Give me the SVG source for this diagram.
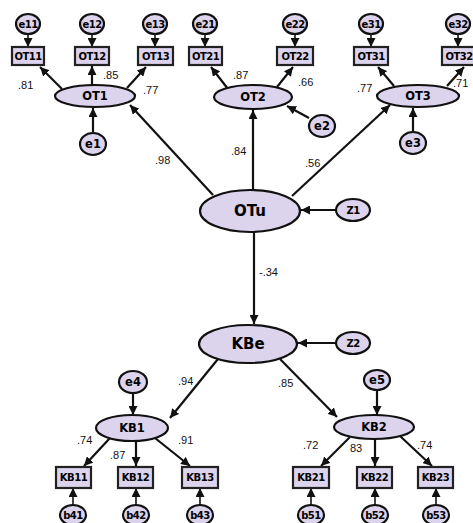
<svg xmlns="http://www.w3.org/2000/svg" width="473" height="523" viewBox="0 0 473 523">
<defs>
<marker id="ah" viewBox="0 0 10 10" refX="10" refY="5" markerWidth="9" markerHeight="9" markerUnits="userSpaceOnUse" orient="auto"><path d="M0,0 L10,5 L0,10 z" fill="#111"/></marker>
<style>
.n{fill:#dcd3ec;stroke:#111;stroke-width:2.2}
.b{fill:#dcd3ec;stroke:#222;stroke-width:2.2}
.t{font-family:"DejaVu Sans",sans-serif;font-weight:bold;fill:#000;text-anchor:middle;dominant-baseline:central}
.s{font-size:10px;letter-spacing:-0.5px}
.m{font-size:11.5px}
.l{font-size:15px}
.c{stroke:#111;stroke-width:2.2;fill:none;marker-end:url(#ah)}
.c1{stroke:#111;stroke-width:1.6;fill:none;marker-end:url(#ah)}
.v{font-family:"Liberation Sans",Arial,sans-serif;font-size:11px;fill:#111}
</style>
</defs>
<rect width="473" height="523" fill="#fff"/>
<g id="connectors">
<line class="c1" x1="28" y1="34" x2="28" y2="47"/>
<line class="c1" x1="92" y1="34" x2="92" y2="47"/>
<line class="c1" x1="155" y1="34" x2="155" y2="47"/>
<line class="c1" x1="205" y1="34" x2="205" y2="47"/>
<line class="c1" x1="295" y1="34" x2="295" y2="47"/>
<line class="c1" x1="371" y1="34" x2="371" y2="47"/>
<line class="c1" x1="458" y1="34" x2="458" y2="47"/>
<line class="c" x1="62" y1="89" x2="40" y2="67"/>
<line class="c" x1="92" y1="85" x2="92" y2="66"/>
<line class="c" x1="127" y1="88" x2="146" y2="67"/>
<line class="c" x1="228" y1="89" x2="211" y2="67"/>
<line class="c" x1="277" y1="87" x2="293" y2="67"/>
<line class="c" x1="394" y1="86" x2="378" y2="67"/>
<line class="c" x1="447" y1="86" x2="464" y2="67"/>
<line class="c" x1="93" y1="132" x2="93" y2="108"/>
<line class="c" x1="309" y1="118" x2="287" y2="106"/>
<line class="c" x1="413" y1="131" x2="413" y2="108"/>
<line class="c" x1="213" y1="195" x2="130" y2="105"/>
<line class="c" x1="253" y1="190" x2="253" y2="110"/>
<line class="c" x1="292" y1="196" x2="390" y2="105"/>
<line class="c" x1="335" y1="210" x2="301" y2="210"/>
<line class="c" x1="254" y1="232" x2="254" y2="324"/>
<line class="c" x1="335" y1="343" x2="298" y2="343"/>
<line class="c" x1="218" y1="359" x2="170" y2="418"/>
<line class="c" x1="280" y1="359" x2="337" y2="417"/>
<line class="c" x1="133" y1="393" x2="133" y2="415"/>
<line class="c" x1="377" y1="390" x2="377" y2="415"/>
<line class="c" x1="110" y1="438" x2="84" y2="466"/>
<line class="c" x1="136" y1="441" x2="136" y2="466"/>
<line class="c" x1="155" y1="438" x2="190" y2="466"/>
<line class="c" x1="350" y1="437" x2="321" y2="466"/>
<line class="c" x1="375" y1="439" x2="375" y2="466"/>
<line class="c" x1="400" y1="436" x2="432" y2="466"/>
<line class="c1" x1="73" y1="505" x2="73" y2="488"/>
<line class="c1" x1="136" y1="505" x2="136" y2="488"/>
<line class="c1" x1="200" y1="505" x2="200" y2="488"/>
<line class="c1" x1="311" y1="505" x2="311" y2="488"/>
<line class="c1" x1="375" y1="505" x2="375" y2="488"/>
<line class="c1" x1="436" y1="505" x2="436" y2="488"/>
</g>
<g id="labels">
<text class="v" x="18" y="89">.81</text>
<text class="v" x="103" y="79">.85</text>
<text class="v" x="143" y="94">.77</text>
<text class="v" x="233" y="79">.87</text>
<text class="v" x="298" y="86">.66</text>
<text class="v" x="357" y="92">.77</text>
<text class="v" x="453" y="87">.71</text>
<text class="v" x="155" y="164">.98</text>
<text class="v" x="231" y="155">.84</text>
<text class="v" x="305" y="167">.56</text>
<text class="v" x="259" y="276">-.34</text>
<text class="v" x="178" y="385">.94</text>
<text class="v" x="278" y="387">.85</text>
<text class="v" x="77" y="444">.74</text>
<text class="v" x="110" y="459">.87</text>
<text class="v" x="178" y="444">.91</text>
<text class="v" x="303" y="449">.72</text>
<text class="v" x="350" y="452">83</text>
<text class="v" x="417" y="449">.74</text>
</g>
<g id="e11"><ellipse class="n" cx="28" cy="24" rx="12" ry="10"/><text class="t s" x="28" y="24">e11</text></g>
<g id="e12"><ellipse class="n" cx="92" cy="24" rx="12" ry="10"/><text class="t s" x="92" y="24">e12</text></g>
<g id="e13"><ellipse class="n" cx="155" cy="24" rx="12" ry="10"/><text class="t s" x="155" y="24">e13</text></g>
<g id="e21"><ellipse class="n" cx="205" cy="24" rx="12" ry="10"/><text class="t s" x="205" y="24">e21</text></g>
<g id="e22"><ellipse class="n" cx="295" cy="24" rx="12" ry="10"/><text class="t s" x="295" y="24">e22</text></g>
<g id="e31"><ellipse class="n" cx="371" cy="24" rx="12" ry="10"/><text class="t s" x="371" y="24">e31</text></g>
<g id="e32"><ellipse class="n" cx="458" cy="24" rx="12" ry="10"/><text class="t s" x="458" y="24">e32</text></g>
<g id="OT11"><rect class="b" x="12" y="47" width="32" height="18"/><text class="t s" x="28" y="56">OT11</text></g>
<g id="OT12"><rect class="b" x="75" y="47" width="34" height="18"/><text class="t s" x="92" y="56">OT12</text></g>
<g id="OT13"><rect class="b" x="138" y="47" width="35" height="18"/><text class="t s" x="155.5" y="56">OT13</text></g>
<g id="OT21"><rect class="b" x="189" y="47" width="33" height="18"/><text class="t s" x="205.5" y="56">OT21</text></g>
<g id="OT22"><rect class="b" x="277" y="47" width="36" height="18"/><text class="t s" x="295" y="56">OT22</text></g>
<g id="OT31"><rect class="b" x="354" y="47" width="34" height="18"/><text class="t s" x="371" y="56">OT31</text></g>
<g id="OT32"><rect class="b" x="442" y="47" width="34" height="18"/><text class="t s" x="459" y="56">OT32</text></g>
<g id="OT1"><ellipse class="n" cx="95" cy="96" rx="40" ry="11"/><text class="t m" x="95" y="96">OT1</text></g>
<g id="OT2"><ellipse class="n" cx="253" cy="97" rx="39" ry="12"/><text class="t m" x="253" y="97">OT2</text></g>
<g id="OT3"><ellipse class="n" cx="418" cy="96" rx="41" ry="11"/><text class="t m" x="418" y="96">OT3</text></g>
<g id="e1"><ellipse class="n" cx="93" cy="144" rx="13" ry="11"/><text class="t m" x="93" y="144">e1</text></g>
<g id="e2"><ellipse class="n" cx="322" cy="126" rx="13" ry="11"/><text class="t m" x="322" y="126">e2</text></g>
<g id="e3"><ellipse class="n" cx="413" cy="143" rx="13" ry="11"/><text class="t m" x="413" y="143">e3</text></g>
<g id="OTu"><ellipse class="n" cx="250" cy="211" rx="50" ry="21"/><text class="t l" x="250" y="211">OTu</text></g>
<g id="Z1"><ellipse class="n" cx="353" cy="210" rx="17" ry="11"/><text class="t s" x="353" y="210">Z1</text></g>
<g id="KBe"><ellipse class="n" cx="248" cy="344" rx="49" ry="19"/><text class="t l" x="248" y="344">KBe</text></g>
<g id="Z2"><ellipse class="n" cx="353" cy="343" rx="17" ry="11"/><text class="t s" x="353" y="343">Z2</text></g>
<g id="e4"><ellipse class="n" cx="133" cy="382" rx="14" ry="11"/><text class="t m" x="133" y="382">e4</text></g>
<g id="e5"><ellipse class="n" cx="377" cy="380" rx="13" ry="10"/><text class="t m" x="377" y="380">e5</text></g>
<g id="KB1"><ellipse class="n" cx="132" cy="428" rx="36" ry="13"/><text class="t m" x="132" y="428">KB1</text></g>
<g id="KB2"><ellipse class="n" cx="374" cy="427" rx="40" ry="12"/><text class="t m" x="374" y="427">KB2</text></g>
<g id="KB11"><rect class="b" x="56" y="467" width="35" height="21"/><text class="t s" x="73.5" y="477.5">KB11</text></g>
<g id="KB12"><rect class="b" x="118" y="467" width="35" height="21"/><text class="t s" x="135.5" y="477.5">KB12</text></g>
<g id="KB13"><rect class="b" x="182" y="467" width="36" height="21"/><text class="t s" x="200" y="477.5">KB13</text></g>
<g id="KB21"><rect class="b" x="293" y="467" width="36" height="21"/><text class="t s" x="311" y="477.5">KB21</text></g>
<g id="KB22"><rect class="b" x="357" y="467" width="35" height="21"/><text class="t s" x="374.5" y="477.5">KB22</text></g>
<g id="KB23"><rect class="b" x="418" y="467" width="35" height="21"/><text class="t s" x="435.5" y="477.5">KB23</text></g>
<g id="b41"><ellipse class="n" cx="73" cy="515" rx="13" ry="10"/><text class="t s" x="73" y="515">b41</text></g>
<g id="b42"><ellipse class="n" cx="136" cy="515" rx="13" ry="10"/><text class="t s" x="136" y="515">b42</text></g>
<g id="b43"><ellipse class="n" cx="200" cy="515" rx="13" ry="10"/><text class="t s" x="200" y="515">b43</text></g>
<g id="b51"><ellipse class="n" cx="311" cy="515" rx="13" ry="10"/><text class="t s" x="311" y="515">b51</text></g>
<g id="b52"><ellipse class="n" cx="375" cy="515" rx="13" ry="10"/><text class="t s" x="375" y="515">b52</text></g>
<g id="b53"><ellipse class="n" cx="436" cy="515" rx="13" ry="10"/><text class="t s" x="436" y="515">b53</text></g>
</svg>
